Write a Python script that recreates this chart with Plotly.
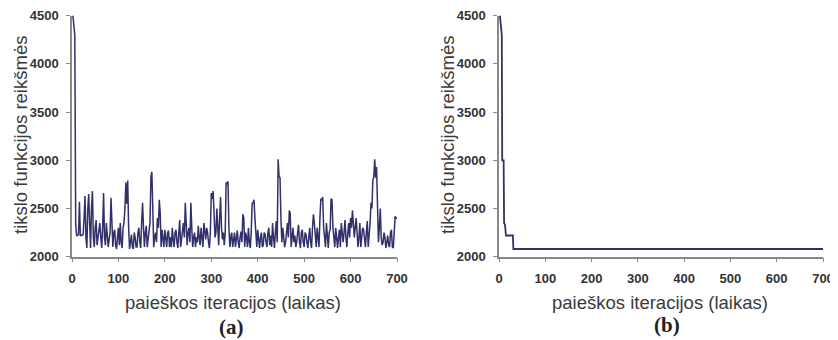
import plotly.graph_objects as go

# ---- data ----
iter_a_start = [0, 2, 4, 6]
vals_a_start = [4500, 4500, 4400, 4300]

iter_a_even = list(range(8, 701, 4))
vals_a_even = [
    2330, 2220, 2570, 2220, 2230, 2630, 2090, 2650, 2090, 2680,
    2100, 2380, 2200, 2350, 2090, 2660, 2120, 2230, 2180, 2610,
    2100, 2280, 2080, 2300, 2350, 2090, 2350, 2770, 2790, 2080,
    2230, 2080, 2200, 2100, 2300, 2090, 2560, 2100, 2320, 2180,
    2350, 2880, 2100, 2250, 2400, 2590, 2100, 2200, 2280, 2100,
    2270, 2200, 2300, 2100, 2280, 2090, 2380, 2200, 2350, 2560,
    2120, 2300, 2560, 2100, 2250, 2200, 2320, 2120, 2200, 2350,
    2180, 2250, 2090, 2660, 2680, 2200, 2500, 2120, 2620, 2180,
    2120, 2770, 2780, 2100, 2250, 2180, 2100, 2270, 2090, 2260,
    2440, 2100, 2200, 2300, 2090, 2550, 2590, 2200, 2280, 2090,
    2250, 2120, 2230, 2100, 2300, 2220, 2350, 2090, 2370, 3010,
    2820, 2150, 2200, 2150, 2350, 2480, 2100, 2300, 2220, 2150,
    2330, 2090, 2280, 2100, 2230, 2090, 2300, 2090, 2440, 2200,
    2300, 2100, 2600, 2620, 2200, 2350, 2090, 2280, 2590, 2200,
    2300, 2090, 2280, 2350, 2150, 2380, 2100, 2350, 2400, 2480,
    2200, 2400, 2100, 2350, 2180, 2280, 2100, 2370, 2200, 2560,
    2800, 3010, 2930, 2150, 2500, 2120, 2250, 2090, 2220, 2100,
    2280, 2090, 2420, 2400,
]
iter_a_mid = list(range(10, 699, 4))
vals_a_mid = [
    2220, 2230, 2220, 2230, 2400, 2200, 2500, 2350, 2500, 2200,
    2300, 2120, 2330, 2200, 2300, 2200, 2350, 2100, 2250, 2200,
    2250, 2120, 2200, 2120, 2150, 2300, 2500, 2550, 2300, 2150,
    2100, 2250, 2100, 2250, 2150, 2350, 2300, 2250, 2100, 2250,
    2830, 2500, 2200, 2150, 2300, 2450, 2280, 2100, 2200, 2250,
    2100, 2100, 2180, 2250, 2150, 2250, 2100, 2280, 2200, 2350,
    2250, 2150, 2300, 2200, 2100, 2150, 2200, 2300, 2100, 2250,
    2300, 2150, 2250, 2600, 2450, 2250, 2300, 2400, 2300, 2250,
    2250, 2760, 2300, 2200, 2100, 2250, 2230, 2150, 2200, 2150,
    2400, 2250, 2100, 2150, 2250, 2560, 2400, 2100, 2150, 2200,
    2100, 2250, 2150, 2250, 2120, 2100, 2200, 2250, 2150, 2830,
    2400, 2300, 2100, 2250, 2200, 2450, 2200, 2150, 2100, 2250,
    2150, 2250, 2150, 2250, 2150, 2200, 2150, 2300, 2350, 2100,
    2200, 2400, 2580, 2300, 2100, 2200, 2250, 2600, 2300, 2100,
    2200, 2200, 2100, 2250, 2250, 2200, 2250, 2200, 2300, 2350,
    2300, 2250, 2200, 2100, 2300, 2150, 2250, 2100, 2350, 2500,
    2820, 2820, 2500, 2300, 2200, 2150, 2200, 2150, 2120, 2250,
    2100, 2250, 2400,
]
pairs = sorted(zip(iter_a_start + iter_a_even + iter_a_mid,
                   vals_a_start + vals_a_even + vals_a_mid))
iter_a = [p[0] for p in pairs]
vals_a = [p[1] for p in pairs]

iter_b = [0, 2, 6, 7, 10, 11, 13, 15, 30, 31, 700]
vals_b = [4500, 4500, 4300, 3000, 3000, 2350, 2330, 2220, 2220, 2080, 2080]

x_ticks = [0, 100, 200, 300, 400, 500, 600, 700]
y_ticks = [2000, 2500, 3000, 3500, 4000, 4500]
x_title = "paieškos iteracijos (laikas)"
y_title = "tikslo funkcijos reikšmės"
panel_labels = ["(a)", "(b)"]

LINE = "#30306a"
OFF = 8                      # page body margin
W, H = 838 - OFF, 340 - OFF  # figure size


def px(x):
    return (x - OFF) / W


def py(y):
    return 1 - (y - OFF) / H


fig = go.Figure()
fig.add_trace(go.Scatter(x=iter_a, y=vals_a, mode="lines",
                         line=dict(color=LINE, width=1.5), xaxis="x", yaxis="y",
                         showlegend=False, hoverinfo="skip"))
fig.add_trace(go.Scatter(x=iter_b, y=vals_b, mode="lines",
                         line=dict(color=LINE, width=1.8), xaxis="x2", yaxis="y2",
                         showlegend=False, hoverinfo="skip"))

tickfont = dict(family="Liberation Sans, Arial", size=13, color="#333333", weight="bold")
ydom = [py(256.7), py(15.7)]
common_x = dict(range=[0, 700], tickvals=x_ticks, ticks="outside", ticklen=4,
                tickcolor="#888888", showline=True, linecolor="#888888", linewidth=1.5,
                showgrid=False, zeroline=False, tickfont=tickfont, ticklabelstandoff=5,
                automargin=False)
common_y = dict(range=[2000, 4500], tickvals=y_ticks, ticks="outside", ticklen=4,
                tickcolor="#888888", showline=True, linecolor="#888888", linewidth=1.5,
                showgrid=False, zeroline=False, tickfont=tickfont, ticklabelstandoff=5,
                automargin=False)

fig.update_layout(
    template="none",
    width=W, height=H,
    margin=dict(l=0, r=0, t=0, b=0, pad=0),
    paper_bgcolor="white", plot_bgcolor="white",
    xaxis=dict(domain=[px(72), px(397)], anchor="y", **common_x),
    yaxis=dict(domain=ydom, anchor="x", **common_y),
    xaxis2=dict(domain=[px(499), px(823)], anchor="y2", **common_x),
    yaxis2=dict(domain=ydom, anchor="x2", **common_y),
)

title_font = dict(family="Liberation Sans, Arial", size=18.5, color="#3a3a3a")
label_font = dict(family="Liberation Serif, Times New Roman", size=21, color="#222222", weight="bold")
for cx, ytx, lab, lx, ly in [(233, 20, panel_labels[0], 231, 327), (660, 447, panel_labels[1], 667, 325)]:
    fig.add_annotation(text=x_title, x=px(cx), y=py(302), xref="paper", yref="paper",
                       showarrow=False, font=title_font, xanchor="center", yanchor="middle")
    fig.add_annotation(text=y_title, x=px(ytx), y=py(135), xref="paper", yref="paper",
                       showarrow=False, font=title_font, textangle=-90,
                       xanchor="center", yanchor="middle")
    fig.add_annotation(text=lab, x=px(lx), y=py(ly), xref="paper", yref="paper",
                       showarrow=False, font=label_font, xanchor="center", yanchor="middle")

fig.write_html("out.html")
